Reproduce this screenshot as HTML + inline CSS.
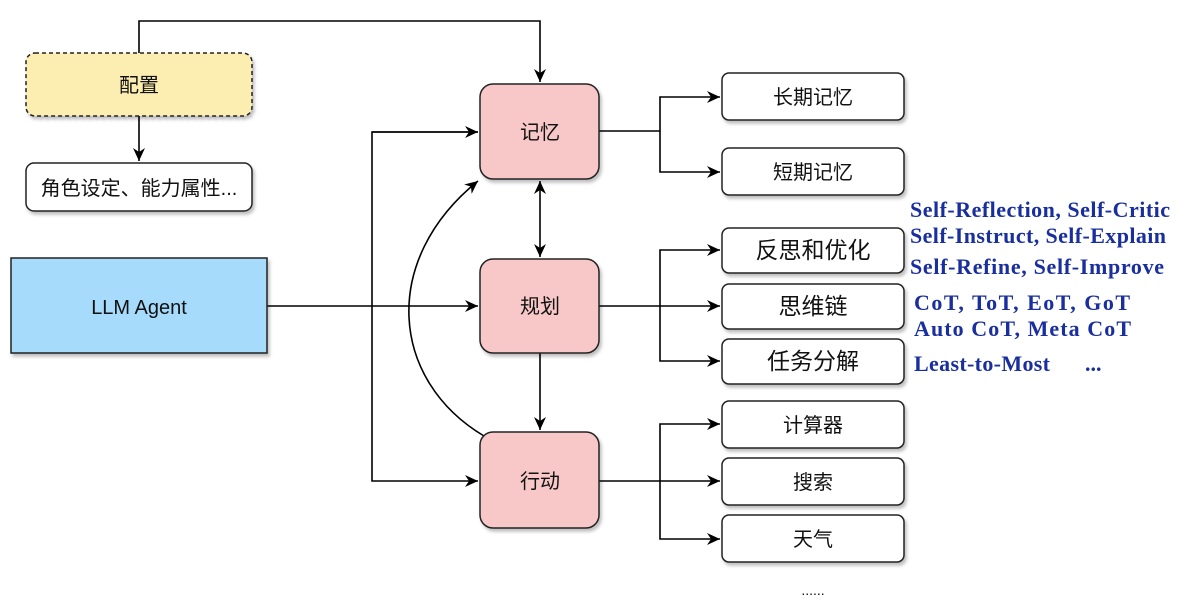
<!DOCTYPE html>
<html><head><meta charset="utf-8"><style>
body{margin:0;background:#fff;width:1180px;height:601px;overflow:hidden}
text{font-family:"Liberation Sans","Noto Sans CJK SC",sans-serif}
.b{font-family:"Liberation Serif","Noto Serif CJK SC",serif;font-weight:bold;fill:#1a2f9f;font-size:22px}
</style></head><body>
<svg width="1180" height="601" viewBox="0 0 1180 601" xmlns="http://www.w3.org/2000/svg">
<defs>
<marker id="a" markerWidth="14" markerHeight="14" refX="13" refY="7" orient="auto" markerUnits="userSpaceOnUse"><path d="M0,1 L13,7 L0,13 L4,7 Z" fill="#000"/></marker>
<marker id="s" markerWidth="14" markerHeight="14" refX="1" refY="7" orient="auto" markerUnits="userSpaceOnUse"><path d="M14,1 L1,7 L14,13 L10,7 Z" fill="#000"/></marker>
<filter id="sh"><feDropShadow dx="2" dy="3" stdDeviation="1.5" flood-color="#000" flood-opacity="0.25"/></filter>
</defs>
<g fill="none" stroke="#000" stroke-width="1.6">
<path d="M139,53 V21 H540 V82" marker-end="url(#a)"/>
<path d="M139,116 V161" marker-end="url(#a)"/>
<path d="M478,132 H372 V481 H478" marker-end="url(#a)"/>
<path d="M372,132 H478" marker-end="url(#a)"/>
<path d="M267,306 H478" marker-end="url(#a)"/>
<path d="M540,181 V257" marker-start="url(#s)" marker-end="url(#a)"/>
<path d="M540,353 V430" marker-end="url(#a)"/>
<path d="M484,436 C390,380 380,260 478,181" marker-end="url(#a)"/>
<path d="M599,131 H660 V97 H720" marker-end="url(#a)"/>
<path d="M660,131 V172 H720" marker-end="url(#a)"/>
<path d="M599,306 H720" marker-end="url(#a)"/>
<path d="M660,306 V250 H720" marker-end="url(#a)"/>
<path d="M660,306 V361 H720" marker-end="url(#a)"/>
<path d="M599,481 H720" marker-end="url(#a)"/>
<path d="M660,481 V424 H720" marker-end="url(#a)"/>
<path d="M660,481 V539 H720" marker-end="url(#a)"/>
</g>
<g stroke="#222" stroke-width="1.5" filter="url(#sh)">
<rect x="26" y="53" width="226" height="63" rx="9" fill="#fcedb0" stroke-dasharray="4,3"/>
<rect x="26" y="163" width="226" height="48" rx="8" fill="#fff"/>
<rect x="11" y="258" width="256" height="95" fill="#a6dbfc"/>
<rect x="480" y="84" width="119" height="95" rx="13" fill="#f8c8c8"/>
<rect x="480" y="259" width="119" height="94" rx="13" fill="#f8c8c8"/>
<rect x="480" y="432" width="119" height="96" rx="13" fill="#f8c8c8"/>
<rect x="722" y="73" width="182" height="47" rx="7" fill="#fff"/>
<rect x="722" y="148" width="182" height="47" rx="7" fill="#fff"/>
<rect x="722" y="228" width="182" height="45" rx="7" fill="#fff"/>
<rect x="722" y="284" width="182" height="45" rx="7" fill="#fff"/>
<rect x="722" y="339" width="182" height="45" rx="7" fill="#fff"/>
<rect x="722" y="401" width="182" height="47" rx="7" fill="#fff"/>
<rect x="722" y="458" width="182" height="47" rx="7" fill="#fff"/>
<rect x="722" y="515" width="182" height="47" rx="7" fill="#fff"/>
</g>
<g text-anchor="middle" fill="#111" font-size="20">
<text x="139" y="92">配置</text>
<text x="139" y="195">角色设定、能力属性...</text>
<text x="139" y="314">LLM Agent</text>
<text x="540" y="139">记忆</text>
<text x="540" y="313">规划</text>
<text x="540" y="488">行动</text>
<text x="813" y="104">长期记忆</text>
<text x="813" y="179">短期记忆</text>
<text x="813" y="258" font-size="23">反思和优化</text>
<text x="813" y="314" font-size="23">思维链</text>
<text x="813" y="369" font-size="23">任务分解</text>
<text x="813" y="432">计算器</text>
<text x="813" y="489">搜索</text>
<text x="813" y="546">天气</text>
<text x="813" y="595" font-size="14">......</text>
</g>
<text class="b" x="910" y="217" textLength="260" lengthAdjust="spacing">Self-Reflection, Self-Critic</text>
<text class="b" x="910" y="243" textLength="256" lengthAdjust="spacing">Self-Instruct, Self-Explain</text>
<text class="b" x="910" y="274" textLength="254" lengthAdjust="spacing">Self-Refine, Self-Improve</text>
<text class="b" x="914" y="310" textLength="216" lengthAdjust="spacing">CoT,  ToT,  EoT,  GoT</text>
<text class="b" x="914" y="336" textLength="217" lengthAdjust="spacing">Auto CoT,  Meta CoT</text>
<text class="b" x="914" y="371" textLength="136" lengthAdjust="spacing">Least-to-Most</text>
<text class="b" x="1085" y="371">...</text>
</svg>
</body></html>
